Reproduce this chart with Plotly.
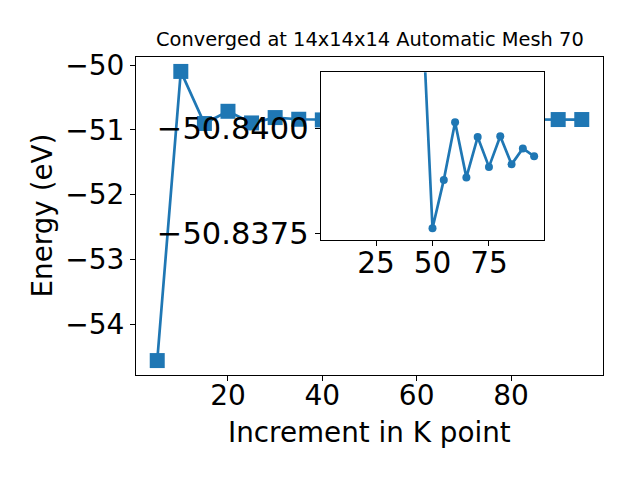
import plotly.graph_objects as go

kpoints = [5, 10, 15, 20, 25, 30, 35, 40, 45, 50, 55, 60, 65, 70, 75, 80, 85, 90, 95]
energy = [-54.564, -50.096, -50.901, -50.712, -50.892, -50.809, -50.835, -50.845,
          -50.8434, -50.83762, -50.83877, -50.84014, -50.83883, -50.83979,
          -50.83908, -50.83981, -50.83914, -50.83952, -50.83933]

# inset shows the converged tail only
inset_start = 8
inset_k = kpoints[inset_start:]
inset_e = energy[inset_start:]

main_xticks = [20, 40, 60, 80]
main_yticks = [-50, -51, -52, -53, -54]
inset_xticks = [25, 50, 75]
inset_yticks = [-50.8400, -50.8375]

title_text = "Converged at 14x14x14 Automatic Mesh 70"
xlabel = "Increment in K point"
ylabel = "Energy (eV)"

blue = "#1f77b4"
font = "DejaVu Sans"

fig = go.Figure()
fig.add_trace(go.Scatter(x=kpoints, y=energy, mode="lines+markers",
                         line=dict(color=blue, width=2.7),
                         marker=dict(symbol="square", size=15, color=blue),
                         xaxis="x", yaxis="y", showlegend=False, cliponaxis=False))
fig.add_trace(go.Scatter(x=inset_k, y=inset_e, mode="lines+markers",
                         line=dict(color=blue, width=2.7),
                         marker=dict(symbol="circle", size=8, color=blue),
                         xaxis="x2", yaxis="y2", showlegend=False))


def axis_style(size):
    return dict(showgrid=False, zeroline=False, showline=True, linecolor="black",
                linewidth=1.1, mirror=True, ticks="outside", ticklen=5, tickwidth=1,
                tickcolor="black", tickfont=dict(family=font, size=size, color="black"))


fig.update_layout(
    width=640, height=480,
    margin=dict(l=136, r=37, t=57, b=105),
    paper_bgcolor="white", plot_bgcolor="white",
    xaxis=dict(domain=[0, 1], range=[0.5, 99.5], tickvals=main_xticks,
               ticklabelstandoff=-10, **axis_style(28)),
    yaxis=dict(domain=[0, 1], range=[-54.787, -49.873], tickvals=main_yticks,
               **axis_style(28)),
    xaxis2=dict(domain=[0.3955, 0.8743], range=[0.5, 99.5], tickvals=inset_xticks,
                anchor="y2", ticklabelstandoff=-8, **axis_style(29.5)),
    yaxis2=dict(domain=[0.4245, 0.9519], range=[-50.83734, -50.84133], tickvals=inset_yticks,
                tickformat=".4f", anchor="x2", **axis_style(30.5)),
    annotations=[
        dict(text=title_text, x=0.5, y=1, xref="paper", yref="paper",
             xanchor="center", yanchor="bottom", yshift=4, showarrow=False,
             font=dict(family=font, size=19.4, color="black")),
        dict(text=xlabel, x=0.5, y=0, xref="paper", yref="paper", xanchor="center",
             yanchor="top", yshift=-39, showarrow=False,
             font=dict(family=font, size=27.8, color="black")),
        dict(text=ylabel, x=0, y=0.5, xref="paper", yref="paper", xanchor="right",
             yanchor="middle", xshift=-76, textangle=-90, showarrow=False,
             font=dict(family=font, size=27.8, color="black")),
    ],
)

fig.write_html("out.html", config={"displayModeBar": False},
               post_script="document.body.style.margin='0';document.body.style.overflow='hidden';")
